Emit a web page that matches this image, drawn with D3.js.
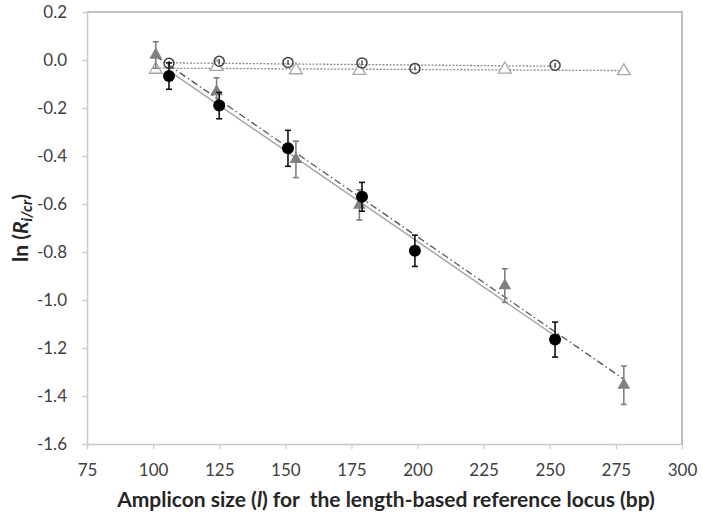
<!DOCTYPE html>
<html lang="en">
<head>
  <meta charset="UTF-8">
  <title>ln(R) vs amplicon size</title>
  <style>
    body { margin: 0; background: #fff; }
    .tick text { font-family: Lato, "Open Sans", sans-serif; font-size: 17px; fill: #404040; }
    .title { font-family: Lato, "Open Sans", sans-serif; font-weight: bold; fill: #262626; }
  </style>
  <script src="https://d3js.org/d3.v7.min.js"></script>
</head>
<body>
  <svg id="chart" width="703" height="518"></svg>
  <script>
    // Values
    const blackX = [106, 125, 151, 179, 199, 252];
    const blackY = [-0.067, -0.19, -0.368, -0.57, -0.795, -1.165];
    const blackErr = [0.055, 0.055, 0.075, 0.06, 0.065, 0.073];

    const grayTriX = [101, 124, 154, 178, 233, 278];
    const grayTriY = [0.021, -0.132, -0.414, -0.604, -0.94, -1.355];
    const grayTriErr = [0.055, 0.058, 0.076, 0.063, 0.07, 0.08];

    const openCircX = [106, 125, 151, 179, 199, 252];
    const openCircY = [-0.014, -0.005, -0.01, -0.012, -0.035, -0.022];
    const openCircErr = [0.01, 0.01, 0.01, 0.01, 0.008, 0.01];

    const openTriX = [101, 124, 154, 178, 233, 278];
    const openTriY = [-0.04, -0.028, -0.042, -0.045, -0.039, -0.046];

    // trend lines (end points)
    const fitOpenCirc = [[106, -0.012], [252, -0.026]];
    const fitOpenTri = [[101, -0.034], [278, -0.044]];
    const fitBlack = [[106, -0.045], [252, -1.15]];
    const fitGrayTri = [[101, 0.016], [278, -1.33]];

    const xTicks = [75, 100, 125, 150, 175, 200, 225, 250, 275, 300];
    const yTicks = [0.2, 0.0, -0.2, -0.4, -0.6, -0.8, -1.0, -1.2, -1.4, -1.6];

    const margin = {top: 12, right: 21, bottom: 74, left: 87};
    const width = 703, height = 518;
    const svg = d3.select("#chart");

    const x = d3.scaleLinear().domain([75, 300]).range([margin.left, width - margin.right]);
    const y = d3.scaleLinear().domain([-1.6, 0.2]).range([height - margin.bottom, margin.top]);

    // plot border (top and right)
    svg.append("path")
      .attr("d", `M${x(75)},${y(0.2)}H${x(300)}V${y(-1.6)}`)
      .attr("fill", "none")
      .attr("stroke", "#bfbfbf")
      .attr("stroke-width", 2);

    // axes
    const xAxis = svg.append("g")
      .attr("transform", `translate(0,${y(-1.6)})`)
      .call(d3.axisBottom(x).tickValues(xTicks).tickSize(5).tickPadding(15).tickSizeOuter(0).tickFormat(d3.format("d")));
    const yAxis = svg.append("g")
      .attr("transform", `translate(${x(75)},0)`)
      .call(d3.axisLeft(y).tickValues(yTicks).tickSize(5).tickPadding(15).tickSizeOuter(0));
    [xAxis, yAxis].forEach(g => {
      g.select(".domain").attr("stroke", "#c8c8c8").attr("stroke-width", 1.5);
      g.selectAll(".tick line").attr("stroke", "#c8c8c8").attr("stroke-width", 1.2);
    });
    yAxis.selectAll(".tick text").text(d => d.toFixed(1));

    // trend lines
    const line = d3.line().x(d => x(d[0])).y(d => y(d[1]));
    const addFit = (pts, color, dash, w) => svg.append("path")
      .attr("d", line(pts))
      .attr("fill", "none")
      .attr("stroke", color)
      .attr("stroke-width", w)
      .attr("stroke-dasharray", dash);
    addFit(fitOpenCirc, "#8c8c8c", "2,1.5", 1.3);
    addFit(fitOpenTri, "#8c8c8c", "2,1.5", 1.3);
    addFit(fitBlack, "#a6a6a6", null, 1.5);
    addFit(fitGrayTri, "#555", "7,3,1.5,3", 1.3);

    // error bars
    const addErr = (xs, ys, es, color, cap) => {
      const g = svg.append("g").attr("stroke", color).attr("stroke-width", 1.6);
      xs.forEach((xv, i) => {
        const top = y(ys[i] + es[i]), bot = y(ys[i] - es[i]), cx = x(xv);
        g.append("line").attr("x1", cx).attr("x2", cx).attr("y1", top).attr("y2", bot);
        if (!cap) return;
        g.append("line").attr("x1", cx - 3).attr("x2", cx + 3).attr("y1", top).attr("y2", top);
        g.append("line").attr("x1", cx - 3).attr("x2", cx + 3).attr("y1", bot).attr("y2", bot);
      });
    };

    const tri = d3.symbol().type(d3.symbolTriangle).size(70);

    // open triangles
    svg.append("g").selectAll("path")
      .data(openTriX.map((d, i) => [d, openTriY[i]]))
      .join("path")
      .attr("d", tri)
      .attr("transform", d => `translate(${x(d[0])},${y(d[1])})`)
      .attr("fill", "#fff")
      .attr("stroke", "#a6a6a6")
      .attr("stroke-width", 1.3);

    // open circles
    addErr(openCircX, openCircY, openCircErr, "#555", false);
    svg.append("g").selectAll("circle")
      .data(openCircX.map((d, i) => [d, openCircY[i]]))
      .join("circle")
      .attr("cx", d => x(d[0]))
      .attr("cy", d => y(d[1]))
      .attr("r", 5)
      .attr("fill", "none")
      .attr("stroke", "#404040")
      .attr("stroke-width", 1.5);

    // gray filled triangles
    addErr(grayTriX, grayTriY, grayTriErr, "#808080", true);
    svg.append("g").selectAll("path")
      .data(grayTriX.map((d, i) => [d, grayTriY[i]]))
      .join("path")
      .attr("d", tri)
      .attr("transform", d => `translate(${x(d[0])},${y(d[1])})`)
      .attr("fill", "#808080");

    // black filled circles
    addErr(blackX, blackY, blackErr, "#111", true);
    svg.append("g").selectAll("circle")
      .data(blackX.map((d, i) => [d, blackY[i]]))
      .join("circle")
      .attr("cx", d => x(d[0]))
      .attr("cy", d => y(d[1]))
      .attr("r", 6)
      .attr("fill", "#000");

    // axis titles
    const xt = svg.append("text")
      .attr("class", "title")
      .attr("x", 386)
      .attr("y", 507)
      .attr("text-anchor", "middle")
      .attr("font-size", 21);
    xt.append("tspan").text("Amplicon size (");
    xt.append("tspan").attr("font-style", "italic").text("l");
    xt.append("tspan").text(")\u00a0for \u00a0the length-based reference locus (bp)");

    const yt = svg.append("text")
      .attr("class", "title")
      .attr("transform", `translate(28,${(y(0.2) + y(-1.6)) / 2}) rotate(-90)`)
      .attr("text-anchor", "middle")
      .attr("font-size", 21);
    yt.append("tspan").text("ln (");
    yt.append("tspan").attr("font-style", "italic").text("R");
    yt.append("tspan").attr("font-style", "italic").attr("font-size", 15).attr("dy", 4).text("i/cr");
    yt.append("tspan").attr("dy", -4).text(")");
  </script>
</body>
</html>
